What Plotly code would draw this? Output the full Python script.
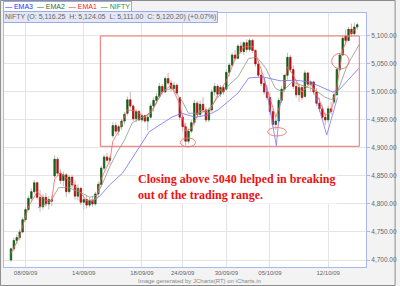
import plotly.graph_objects as go

# ---------------- data ----------------
opens = [4700,4720,4735,4740,4750,4772,4790,4810,4822,4838,4812,4795,4812,4800,4808,
         4850,4880,4855,4842,4852,4822,4848,4834,4814,4828,4803,4808,4798,4806,4800,
         4818,4835,4864,4884,4878,4922,4940,4930,4938,4948,4962,4986,4975,4952,4965,
         4950,4958,4948,4955,4975,4985,4992,5010,5000,5024,5016,5006,5012,4990,4955,
         4938,4912,4930,4945,4980,4960,4978,4968,4950,4968,5000,5010,4996,5008,5005,
         5035,5048,5066,5060,5082,5072,5088,5076,5092,5074,5050,5030,5015,5000,4990,
         4965,4942,4948,4985,5005,5030,5062,5040,5010,4995,5008,4992,5034,5014,5018,
         5000,4980,4970,4955,4950,4970,4982,4995,5040,5066,5100,5092,5112,5104,5116.25]
highs = [4722,4740,4746,4755,4776,4795,4815,4828,4843,4840,4825,4818,4820,4814,4815,
         4887,4884,4862,4858,4855,4852,4852,4842,4835,4830,4816,4815,4812,4814,4822,
         4840,4868,4888,4891,4886,4946,4946,4942,4952,4964,4992,5000,4978,4970,4968,
         4962,4960,4960,4980,4990,4998,5016,5014,5028,5034,5021,5018,5015,4991,4960,
         4945,4935,4950,4986,4984,4985,4991,4973,4972,5005,5016,5014,5012,5012,5040,
         5052,5070,5075,5085,5089,5090,5094,5096,5095,5076,5056,5038,5025,5012,4998,
         4970,4955,4990,5010,5030,5070,5066,5048,5018,5015,5012,5039,5036,5021,5020,
         5007,4990,4977,4962,4975,4982,5000,5045,5070,5100,5112,5116,5122,5124,5124.05]
lows = [4697,4716,4728,4735,4748,4768,4788,4804,4818,4808,4786,4790,4795,4790,4796,
        4846,4850,4836,4832,4812,4818,4828,4808,4806,4798,4790,4792,4794,4795,4797,
        4812,4830,4860,4874,4870,4918,4925,4922,4932,4942,4958,4970,4948,4946,4948,
        4946,4945,4932,4952,4965,4978,4990,4995,4998,5012,5000,5000,4995,4950,4930,
        4905,4908,4927,4940,4955,4955,4962,4945,4946,4965,4992,4990,4991,4995,5002,
        5028,5045,5056,5058,5068,5066,5070,5072,5070,5045,5025,5010,4995,4985,4960,
        4938,4932,4940,4980,5000,5022,5035,5005,4990,4982,4985,4990,5010,5000,4995,
        4975,4964,4950,4941,4945,4960,4978,4992,5038,5064,5084,5090,5098,5100,5111.00]
closes = [4720,4735,4740,4750,4772,4790,4810,4822,4838,4812,4795,4812,4800,4808,4805,
          4880,4855,4842,4852,4822,4848,4834,4814,4828,4803,4808,4798,4806,4800,4818,
          4835,4864,4884,4878,4882,4940,4930,4938,4948,4960,4986,4975,4952,4965,4950,
          4958,4948,4955,4975,4985,4992,5010,5000,5024,5016,5006,5012,4998,4955,4938,
          4912,4930,4945,4980,4960,4978,4968,4950,4968,5000,5010,4996,5008,5000,5035,
          5048,5066,5060,5082,5072,5088,5076,5092,5074,5050,5030,5015,5000,4990,4965,
          4942,4948,4985,5005,5030,5062,5040,5010,4995,5008,4990,5034,5014,5018,5000,
          4980,4970,4955,4950,4970,4965,4995,5040,5066,5096,5092,5112,5104,5116,5120.20]

tick_index = [5, 25, 45, 59, 74, 89, 109]
tick_labels = ["08/09/09", "14/09/09", "18/09/09", "24/09/09", "30/09/09", "05/10/09", "12/10/09"]
price_ticks = [4700, 4750, 4800, 4850, 4900, 4950, 5000, 5050, 5100]

ema1_x = [0,3,6,9,12,14,15,17,20,23,26,29,31,34,35,37,40,43,46,49,52,55,58,60,62,65,68,71,74,77,
          80,83,86,89,91,93,95,97,100,103,106,108,110,112,114,116,119]
ema1_y = [4712,4742,4795,4822,4806,4806,4845,4855,4842,4826,4806,4808,4845,4878,4912,4930,4968,4966,
          4954,4972,5000,5012,4978,4930,4935,4968,4962,4995,5020,5058,5080,5082,5040,4990,4955,4985,
          5045,5030,5000,5015,4985,4958,4965,5010,5075,5100,5116]
ema2_x = [9.2,13.6,16.3,19.3,23.7,27.1,29.5,31.5,33.9,36.3,39,41.7,45.1,48.1,51.9,55.3,58.6,61,64.4,
          67.8,71.2,75.6,78,81.7,84.5,87.5,90.8,93.2,96.6,100,104.4,107.8,110.2,112.2,115.6,119.7]
ema2_y = [4793,4804,4829,4830,4821,4812,4816,4837,4866,4891,4914,4945,4955,4962,5000,5007,4986,4962,
          4962,4968,4991,5016,5027,5060,5062,5043,5007,5000,5018,5012,5004,4991,4986,5000,5048,5085]
ema3_x = [27.8,30.5,33.9,38.3,41.7,47.5,55.3,58.6,63.4,67.8,71.2,78,81.7,86.4,92.5,97.6,102.7,107,
          110.5,113,119.5]
ema3_y = [4804,4814,4834,4855,4882,4929,4955,4962,4955,4959,4968,4998,5025,5027,5020,5021,5018,5008,
          5000,5005,5042]

# hand-drawn blue "V" lines
v1_x = [87.1, 91.2, 92.6]
v1_y = [5025, 4904, 4985]
v2_x = [104.4, 108.5, 112.2]
v2_y = [4998, 4923, 4990]

# trading-range box and circled spots
range_x = [30.7, 119.7]
range_y = [4903, 5100]
circles = [(60.8, 4910, 2.6, 8), (91.4, 4929, 3.2, 7.5), (113.2, 5055, 3.0, 14)]

x_idx = list(range(len(closes)))
body_hi = [max(o, c) for o, c in zip(opens, closes)]
body_lo = [min(o, c) for o, c in zip(opens, closes)]

GREEN = "#0d5f12"
RED = "#b80d0d"

fig = go.Figure()

fig.add_trace(go.Scatter(x=ema3_x, y=ema3_y, mode="lines", line=dict(color="#6f6ff5", width=0.8)))
fig.add_trace(go.Scatter(x=ema2_x, y=ema2_y, mode="lines", line=dict(color="#8a9a88", width=0.8)))
fig.add_trace(go.Scatter(x=ema1_x, y=ema1_y, mode="lines", line=dict(color="#ff6060", width=0.8)))
fig.add_trace(go.Scatter(x=v1_x, y=v1_y, mode="lines", line=dict(color="#7a7af5", width=0.8)))
fig.add_trace(go.Scatter(x=v2_x, y=v2_y, mode="lines", line=dict(color="#7a7af5", width=0.8)))

# wicks
fig.add_trace(go.Candlestick(
    x=x_idx, open=opens, high=highs, low=lows, close=closes,
    increasing=dict(line=dict(color="#bdbdbd", width=1), fillcolor="#bdbdbd"),
    decreasing=dict(line=dict(color="#c9b5b5", width=1), fillcolor="#c9b5b5"),
    whiskerwidth=0))
# bodies
fig.add_trace(go.Candlestick(
    x=x_idx, open=opens, high=body_hi, low=body_lo, close=closes,
    increasing=dict(line=dict(color=GREEN, width=0.6), fillcolor=GREEN),
    decreasing=dict(line=dict(color=RED, width=0.6), fillcolor=RED),
    whiskerwidth=0))

shapes = [dict(type="rect", xref="x", yref="y", x0=range_x[0], x1=range_x[1],
               y0=range_y[0], y1=range_y[1], line=dict(color="#f07070", width=1))]
for cx, cy, rx, ry in circles:
    shapes.append(dict(type="circle", xref="x", yref="y", x0=cx - rx, x1=cx + rx,
                       y0=cy - ry, y1=cy + ry, line=dict(color="#f07070", width=0.9)))
# outer frame of the image
shapes.append(dict(type="rect", xref="paper", yref="paper", x0=-3.5/367, x1=1 + 29.5/367,
                   y0=-18.5/254, y1=1 + 12.5/254, line=dict(color="#8c8c8c", width=1), layer="above"))

small = "Liberation Sans, Arial, sans-serif"
annotations = [
    dict(xref="x", yref="y", x=43, y=4831, xanchor="left", yanchor="middle", align="left",
         text="<b>Closing above 5040 helped in breaking<br>out of the trading range.</b>",
         font=dict(family="Liberation Serif, Times New Roman, serif", size=12, color="#ee1111"),
         bgcolor="white", showarrow=False),
    dict(xref="paper", yref="paper", x=-1/367, y=1 + 6.5/254, xanchor="left", yanchor="middle",
         text='<span style="color:#2b2bff">— EMA3</span>  <span style="color:#2e6b2e">— EMA2</span>  '
              '<span style="color:#ff2020">— EMA1</span>  <span style="color:#2e8b2e">— NIFTY</span>',
         font=dict(family=small, size=7), bgcolor="white", bordercolor="#9aaae6", borderwidth=1,
         borderpad=1, showarrow=False),
    dict(xref="paper", yref="paper", x=-1/367, y=1 - 4.5/254, xanchor="left", yanchor="middle",
         text="NIFTY (O: 5,116.25  H: 5,124.05  L: 5,111.00  C: 5,120.20) (+0.07%)",
         font=dict(family=small, size=7, color="#666666"), bgcolor="#e4e8f4",
         bordercolor="#9aaae6", borderwidth=1, borderpad=1, showarrow=False),
    dict(xref="paper", yref="paper", x=198/367, y=-14/254, xanchor="center", yanchor="middle",
         text="Image generated by JCharts(RT) on iCharts.in",
         font=dict(family=small, size=6, color="#888888"), showarrow=False),
]

fig.update_layout(
    width=400, height=286, margin=dict(l=3, r=30, t=13, b=19),
    paper_bgcolor="#f3f3f3", plot_bgcolor="white", showlegend=False,
    shapes=shapes, annotations=annotations,
    xaxis=dict(range=[-2.4, 122], tickmode="array", tickvals=tick_index, ticktext=tick_labels,
               tickfont=dict(family=small, size=6, color="#666666"), showgrid=True,
               gridcolor="#e4e4e4", gridwidth=1, zeroline=False, showline=True,
               linecolor="#a9b8ee", mirror=True, ticks="", rangeslider=dict(visible=False)),
    yaxis=dict(range=[4687.5, 5141], side="right", tickmode="array", tickvals=price_ticks,
               ticktext=[f"{v:,.2f}" for v in price_ticks],
               tickfont=dict(family=small, size=6.5, color="#666666"), showgrid=True,
               gridcolor="#e4e4e4", gridwidth=1, zeroline=False, showline=True,
               linecolor="#a9b8ee", mirror=True, ticks="outside", ticklen=3, tickcolor="#a9b8ee"),
)

fig.write_html("out.html")
